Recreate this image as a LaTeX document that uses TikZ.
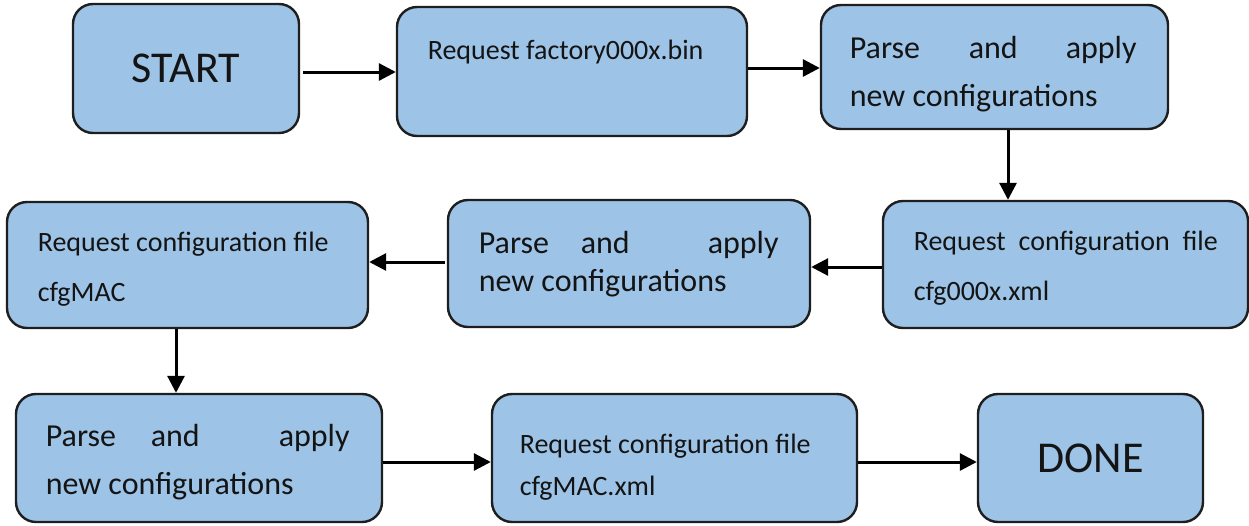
\documentclass[tikz,border=0pt]{standalone}
\usepackage{fontspec}
\setmainfont{Carlito}
\usetikzlibrary{arrows.meta,calc}
\definecolor{boxblue}{HTML}{9DC3E6}
\definecolor{boxline}{HTML}{1E1E1E}
\definecolor{txtcol}{HTML}{141414}
\tikzset{
  box/.style={draw=boxline, line width=2.4pt, fill=boxblue, rounded corners=20pt, inner sep=0pt, text=txtcol},
  arr/.style={line width=3pt, draw=black, -{Triangle[length=17pt,width=17pt]}},
  txt/.style={anchor=base west, inner sep=0pt, outer sep=0pt, text=txtcol},
  bigtxt/.style={font=\fontsize{44}{50}\selectfont}
}
\begin{document}
\begin{tikzpicture}[x=1pt,y=-1pt]
\useasboundingbox (0,0) rectangle (1249,525);
% boxes
\node[box, bigtxt, minimum width=226pt, minimum height=129pt] (start) at (186,68.5) {\raisebox{-4pt}{START}};
\node[box, minimum width=350pt, minimum height=129pt] (factory) at (572,71.5) {};
\node[box, minimum width=347pt, minimum height=124pt] (parseA) at (994.5,67) {};
\node[box, minimum width=365pt, minimum height=127pt] (cfgx) at (1065.5,264.5) {};
\node[box, minimum width=362pt, minimum height=127pt] (parseB) at (629,263.5) {};
\node[box, minimum width=361pt, minimum height=126pt] (cfgmac) at (187.5,265) {};
\node[box, minimum width=366pt, minimum height=128pt] (parseC) at (199,458) {};
\node[box, minimum width=365pt, minimum height=128pt] (cfgmacxml) at (674.5,458) {};
\node[box, bigtxt, minimum width=225pt, minimum height=128pt] (done) at (1090.5,458) {\raisebox{-4pt}{DONE}};
% texts
\node[txt, font=\fontsize{28}{50}\selectfont] (tfactory) at ($(factory.north west)+(32,54)$) {Request factory000x.bin};
\node[txt, font=\fontsize{32}{48}\selectfont] (tparseA) at ($(parseA.north west)+(30,55)$)
  {\parbox[t]{300pt}{\makebox[0pt][l]{Parse}\hspace*{119pt}\makebox[0pt][l]{and}\hspace*{97pt}apply\\new configurations}};
\node[txt, font=\fontsize{28}{50}\selectfont] (tcfgx) at ($(cfgx.north west)+(32,51)$)
  {\parbox[t]{320pt}{\makebox[304pt][s]{Request configuration file}\\cfg000x.xml}};
\node[txt, font=\fontsize{32}{38}\selectfont] (tparseB) at ($(parseB.north west)+(32,55)$)
  {\parbox[t]{320pt}{\makebox[0pt][l]{Parse}\hspace*{102pt}\makebox[0pt][l]{and}\hspace*{127pt}apply\\new configurations}};
\node[txt, font=\fontsize{28}{50}\selectfont] (tcfgmac) at ($(cfgmac.north west)+(32,51)$)
  {\parbox[t]{320pt}{Request configuration file\\cfgMAC}};
\node[txt, font=\fontsize{32}{48}\selectfont] (tparseC) at ($(parseC.north west)+(31,54)$)
  {\parbox[t]{320pt}{\makebox[0pt][l]{Parse}\hspace*{105pt}\makebox[0pt][l]{and}\hspace*{128pt}apply\\new configurations}};
\node[txt, font=\fontsize{28}{42}\selectfont] (tcfgmacxml) at ($(cfgmacxml.north west)+(29,61)$)
  {\parbox[t]{320pt}{Request configuration file\\cfgMAC.xml}};
% connectors
\coordinate (a1) at ($(start.east)+(3,3.5)$);
\draw[arr] (a1) -- (a1 -| factory.west);
\coordinate (a2) at ($(factory.east)+(0,-3.5)$);
\draw[arr] (a2) -- (a2 -| parseA.west);
\coordinate (a3) at ($(parseA.south)+(13.5,0)$);
\draw[arr] (a3) -- (a3 |- cfgx.north);
\coordinate (a4) at ($(cfgx.west)+(0,2.5)$);
\draw[arr] (a4) -- (a4 -| parseB.east);
\coordinate (a5) at ($(parseB.west)+(-2,-1.5)$);
\draw[arr] (a5) -- (a5 -| cfgmac.east);
\coordinate (a6) at ($(cfgmac.south)+(-11.5,0)$);
\draw[arr] (a6) -- (a6 |- parseC.north);
\coordinate (a7) at ($(parseC.east)+(0,4)$);
\draw[arr] (a7) -- (a7 -| cfgmacxml.west);
\coordinate (a8) at ($(cfgmacxml.east)+(0,4)$);
\draw[arr] (a8) -- (a8 -| done.west);
\end{tikzpicture}
\end{document}
